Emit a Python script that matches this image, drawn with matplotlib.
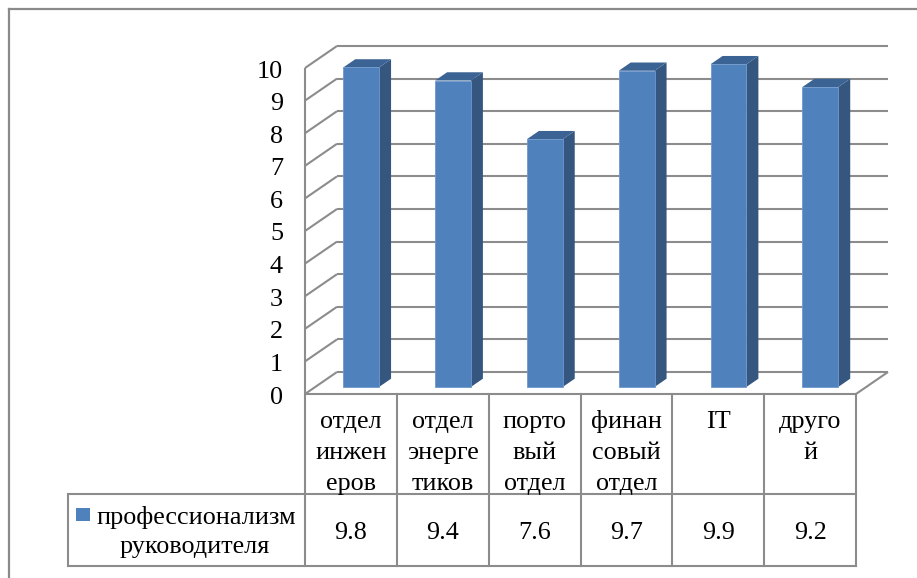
import matplotlib
matplotlib.use("Agg")
import matplotlib.pyplot as plt
import matplotlib.transforms as mtransforms
from matplotlib.patches import Polygon, Rectangle
from matplotlib.lines import Line2D

# ---- data ----
categories = ["отдел\nинжен\nеров", "отдел\nэнерге\nтиков", "порто\nвый\nотдел",
              "финан\nсовый\nотдел", "IT", "друго\nй"]
values = [9.8, 9.4, 7.6, 9.7, 9.9, 9.2]
value_labels = ["9.8", "9.4", "7.6", "9.7", "9.9", "9.2"]
series_name = ["профессионализм", "руководителя"]
y_ticks = list(range(0, 11))

# ---- style ----
FONT = ["Liberation Serif", "DejaVu Serif"]
FS = 18.8
GRID = "#8c8c8c"
FRONT = "#4f81bd"
SIDE = "#34567f"
TOP = "#3b6394"

plt.rcParams["font.family"] = FONT

W, H = 917, 578
fig = plt.figure(figsize=(W / 100, H / 100), dpi=100)
fig.patch.set_facecolor("white")

# pixel transform (origin top-left)
pix = mtransforms.Affine2D().scale(1 / 100, -1 / 100).translate(0, H / 100) + fig.dpi_scale_trans

# front plane of the plot box, in pixels, and depth projection
FX0, FX1 = 305, 856
FY0, FY1 = 394, 68
DXP, DYP = 32, 22
n = len(categories)
ymax = 10
KX = DXP / ((FX1 - FX0) / n)
KY = DYP / ((FY0 - FY1) / ymax)

ax = fig.add_axes([FX0 / W, 1 - FY0 / H, (FX1 + DXP - FX0) / W, (FY0 - FY1 + DYP) / H])
ax.set_xlim(0, n + KX)
ax.set_ylim(0, ymax + KY)
ax.axis("off")


def proj(x, y, d):
    return (x + d * KX, y + d * KY)


def seg(p, q, **kw):
    ax.add_line(Line2D([p[0], q[0]], [p[1], q[1]], color=GRID, lw=1.5,
                       solid_capstyle="butt", clip_on=False, **kw))


# walls: back gridlines, side-wall diagonals
for v in y_ticks:
    seg(proj(0, v, 1), proj(n, v, 1))
    seg(proj(0, v, 0), proj(0, v, 1))
seg(proj(0, 0, 0), proj(0, ymax, 0))
seg(proj(n, 0, 0), proj(n, 0, 1))
seg(proj(0, 0, 0), proj(n, 0, 0))

# 3D columns
BW = 0.39
D0, D1 = 0.32, 0.695
for i, v in enumerate(values):
    xl = i + 0.5 - BW / 2
    xr = i + 0.5 + BW / 2
    front = [proj(xl, 0, D0), proj(xr, 0, D0), proj(xr, v, D0), proj(xl, v, D0)]
    side = [proj(xr, 0, D0), proj(xr, 0, D1), proj(xr, v, D1), proj(xr, v, D0)]
    top = [proj(xl, v, D0), proj(xr, v, D0), proj(xr, v, D1), proj(xl, v, D1)]
    ax.add_patch(Polygon(side, closed=True, fc=SIDE, ec="none", clip_on=False, zorder=3))
    ax.add_patch(Polygon(top, closed=True, fc=TOP, ec="none", clip_on=False, zorder=3))
    ax.add_patch(Polygon(front, closed=True, fc=FRONT, ec="#6f98cc", lw=0.6,
                         clip_on=False, zorder=4))

# value axis labels
ylab = mtransforms.blended_transform_factory(pix, ax.transData)
off = mtransforms.ScaledTranslation(0, -0.095, fig.dpi_scale_trans)
for v in y_ticks:
    ax.text(283, v, str(v), transform=ylab + off, ha="right", va="baseline",
            fontsize=FS, family=FONT, color="black")

# data table
tbl = mtransforms.blended_transform_factory(ax.transData, pix)
TOP_Y, MID_Y, BOT_Y = 394, 494, 566
LEG_X = 68
lw_t = 1.5
for i in range(n + 1):
    ax.add_line(Line2D([i, i], [TOP_Y, BOT_Y], transform=tbl, color=GRID, lw=lw_t,
                       clip_on=False))
for yy in (MID_Y, BOT_Y):
    ax.add_line(Line2D([LEG_X, FX1], [yy, yy], transform=pix, color=GRID, lw=lw_t,
                       clip_on=False))
ax.add_line(Line2D([LEG_X, LEG_X], [MID_Y, BOT_Y], transform=pix, color=GRID, lw=lw_t,
                   clip_on=False))

for i, (c, lab) in enumerate(zip(categories, value_labels)):
    for k, line in enumerate(c.split("\n")):
        ax.text(i + 0.5, 428 + 31 * k, line, transform=tbl, ha="center", va="baseline",
                fontsize=FS, family=FONT)
    ax.text(i + 0.5, 539, lab, transform=tbl, ha="center", va="baseline",
            fontsize=FS, family=FONT)

# legend key inside the table
ax.add_patch(Rectangle((76, 521), 14, -13, transform=pix, fc=FRONT, ec="none", clip_on=False))
ax.text(196, 524, series_name[0], transform=pix, ha="center", va="baseline",
        fontsize=FS, family=FONT)
ax.text(195, 553, series_name[1], transform=pix, ha="center", va="baseline",
        fontsize=FS, family=FONT)

# chart area frame
fig.add_artist(Line2D([9, 9], [9, H], transform=pix, color="#8a8a8a", lw=1.6))
fig.add_artist(Line2D([9, W], [9, 9], transform=pix, color="#8a8a8a", lw=1.6))

fig.savefig("out.png", dpi=100)
